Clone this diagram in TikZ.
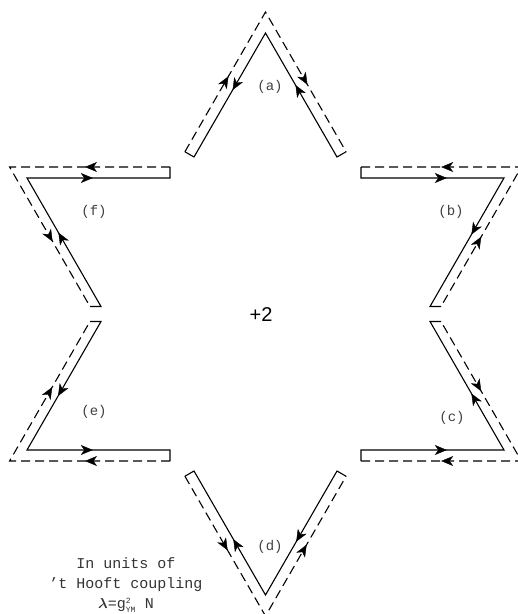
\documentclass[tikz,border=0pt]{standalone}
\usepackage{fontspec}
\usepackage{amsmath}
\usepackage{bm}
\setmonofont{Liberation Mono}
\setsansfont{Liberation Sans}
\usetikzlibrary{arrows.meta,decorations.markings}

\begin{document}
\begin{tikzpicture}[x=1pt, y=-1pt,
    flow/.style={postaction={decorate}, decoration={markings,
        mark=at position #1 with {\arrow{Stealth[length=12pt,width=10pt,inset=3.5pt]}}}}]
    \tikzstyle{inner} = [line width=1.1pt, line join=miter]
    \tikzstyle{outer} = [line width=1.1pt, dash pattern=on 9pt off 5pt]
    \tikzstyle{tag} = [font=\fontsize{14}{14}\selectfont\ttfamily, text=black!75]
    \useasboundingbox (0,0) rectangle (518,614);

    % corners of the six points, solid line and dashed line
    \coordinate (A) at (265.5,33);  \coordinate (a1) at (194,157);  \coordinate (a2) at (337,157);
    \coordinate (Ad) at (265.5,12); \coordinate (a1d) at (184.9,151.75); \coordinate (a2d) at (346.1,151.75);
    \coordinate (B) at (504,178);   \coordinate (b1) at (361,178);  \coordinate (b2) at (430,306.5);
    \coordinate (Bd) at (521.4,167); \coordinate (b1d) at (361,167); \coordinate (b2d) at (441,306.5);
    \coordinate (C) at (504,450);   \coordinate (c1) at (361,450);  \coordinate (c2) at (430,321.5);
    \coordinate (Cd) at (521.4,461); \coordinate (c1d) at (361,461); \coordinate (c2d) at (441,321.5);
    \coordinate (D) at (265.5,595); \coordinate (d1) at (194,471);  \coordinate (d2) at (337,471);
    \coordinate (Dd) at (265.5,616); \coordinate (d1d) at (184.9,476.25); \coordinate (d2d) at (346.1,476.25);
    \coordinate (E) at (27,450);    \coordinate (e1) at (170,450);  \coordinate (e2) at (101,321.5);
    \coordinate (Ed) at (9.6,461);  \coordinate (e1d) at (170,461); \coordinate (e2d) at (90,321.5);
    \coordinate (F) at (27,178);    \coordinate (f1) at (170,178);  \coordinate (f2) at (101,306.5);
    \coordinate (Fd) at (9.6,167);  \coordinate (f1d) at (170,167); \coordinate (f2d) at (90,306.5);

    % (a)
    \draw[inner] (a1d) -- (a1) -- (A) -- (a2) -- (a2d);
    \draw[outer] (a1d) -- (Ad) -- (a2d);
    \path[flow=0.46] (A) -- (a1);
    \path[flow=0.54] (a1d) -- (Ad);
    \path[flow=0.58] (a2) -- (A);
    \path[flow=0.52] (Ad) -- (a2d);
    % (b)
    \draw[inner] (b1d) -- (b1) -- (B) -- (b2) -- (b2d);
    \draw[outer] (b1d) -- (Bd) -- (b2d);
    \path[flow=0.60] (b1) -- (B);
    \path[flow=0.50] (Bd) -- (b1d);
    \path[flow=0.44] (B) -- (b2);
    \path[flow=0.50] (b2d) -- (Bd);
    % (c)
    \draw[inner] (c1d) -- (c1) -- (C) -- (c2) -- (c2d);
    \draw[outer] (c1d) -- (Cd) -- (c2d);
    \path[flow=0.60] (c1) -- (C);
    \path[flow=0.50] (Cd) -- (c1d);
    \path[flow=0.44] (C) -- (c2);
    \path[flow=0.50] (c2d) -- (Cd);
    % (d)
    \draw[inner] (d1d) -- (d1) -- (D) -- (d2) -- (d2d);
    \draw[outer] (d1d) -- (Dd) -- (d2d);
    \path[flow=0.45] (D) -- (d1);
    \path[flow=0.53] (d1d) -- (Dd);
    \path[flow=0.57] (d2) -- (D);
    \path[flow=0.51] (Dd) -- (d2d);
    % (e)
    \draw[inner] (e1d) -- (e1) -- (E) -- (e2) -- (e2d);
    \draw[outer] (e1d) -- (Ed) -- (e2d);
    \path[flow=0.46] (E) -- (e1);
    \path[flow=0.53] (e1d) -- (Ed);
    \path[flow=0.58] (e2) -- (E);
    \path[flow=0.53] (Ed) -- (e2d);
    % (f)
    \draw[inner] (f1d) -- (f1) -- (F) -- (f2) -- (f2d);
    \draw[outer] (f1d) -- (Fd) -- (f2d);
    \path[flow=0.46] (F) -- (f1);
    \path[flow=0.53] (f1d) -- (Fd);
    \path[flow=0.575] (f2) -- (F);
    \path[flow=0.535] (Fd) -- (f2d);

    \node[tag] (la) at (270,87) {(a)};
    \node[tag] (lb) at (451,212) {(b)};
    \node[tag] (lc) at (452,418) {(c)};
    \node[tag] (ld) at (270,547) {(d)};
    \node[tag] (le) at (94,412) {(e)};
    \node[tag] (lf) at (94,212) {(f)};

    \node[font=\fontsize{20}{20}\selectfont\sffamily] (total) at (261,315) {+2};

    \node[align=center, font=\fontsize{15}{20}\selectfont\ttfamily, text=black!80] (units) at (126,585)
        {In units of\\’t Hooft coupling\\$\bm{\lambda}$=g$^{\mbox{\fontsize{8}{8}\selectfont 2}}_{\mbox{\fontsize{8}{8}\selectfont YM}}$ N};
\end{tikzpicture}
\end{document}
